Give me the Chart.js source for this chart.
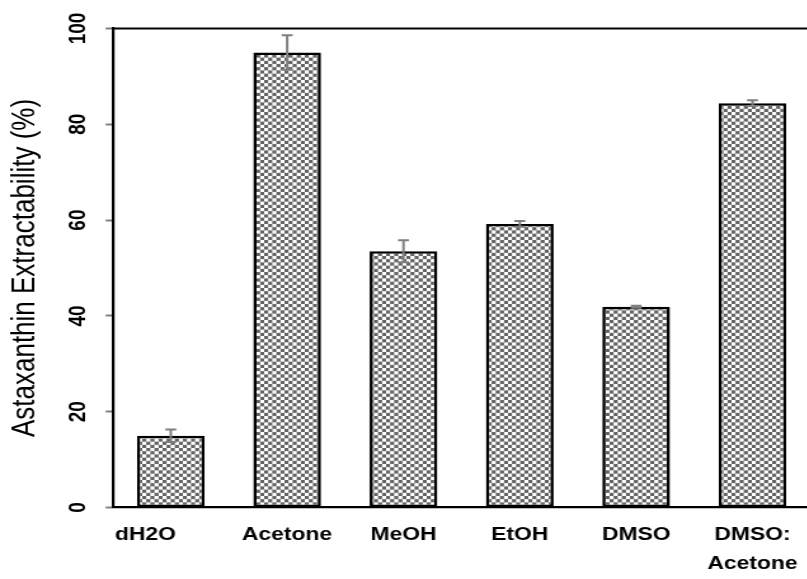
<!DOCTYPE html>
<html>
<head>
<meta charset="utf-8">
<script src="https://cdn.jsdelivr.net/npm/chart.js@4.4.1/dist/chart.umd.min.js"></script>
<style>
  html, body { margin: 0; padding: 0; background: #fff; overflow: hidden; width: 807px; height: 579px; }
  /* the figure is drawn narrow and widened horizontally, like the exported plot */
  #wrap { position: absolute; left: 0; top: 0; width: 641px; height: 579px;
          transform: scaleX(1.27); transform-origin: 0 0; }
</style>
</head>
<body>
<div id="wrap"><canvas id="c"></canvas></div>
<script>
// Solvent categories, extractability means (%) and standard deviations
const categories = ['dH2O        ', 'Acetone', 'MeOH', 'EtOH', 'DMSO', ['DMSO:', 'Acetone']];
const extractability = [15.0, 95.0, 53.5, 59.2, 41.9, 84.4];
const stdDev = [1.3, 3.6, 2.3, 0.6, 0.2, 0.6];
const yTicks = [0, 20, 40, 60, 80, 100];

// Small grey/white checkerboard fill for the bars
function checkerPattern(ctx) {
  const t = document.createElement('canvas');
  t.width = 8; t.height = 8;
  const g = t.getContext('2d');
  g.fillStyle = '#ffffff';
  g.fillRect(0, 0, 8, 8);
  g.fillStyle = '#646464';
  g.fillRect(0, 0, 4, 4);
  g.fillRect(4, 4, 4, 4);
  const p = ctx.createPattern(t, 'repeat');
  p.setTransform(new DOMMatrix().scale(0.8));
  return p;
}

// Error bars (mean ± SD) and the frame line along the top of the plot
const extras = {
  id: 'extras',
  afterDatasetsDraw(chart) {
    const { ctx, chartArea } = chart;
    const meta = chart.getDatasetMeta(0);
    const y = chart.scales.y;
    ctx.save();
    ctx.strokeStyle = '#7f7f7f';
    ctx.lineWidth = 2;
    meta.data.forEach((bar, i) => {
      const v = extractability[i], e = stdDev[i];
      const yt = y.getPixelForValue(v + e), yb = y.getPixelForValue(v - e);
      const cw = 4.3;
      ctx.beginPath();
      ctx.moveTo(bar.x, yt); ctx.lineTo(bar.x, yb);
      ctx.moveTo(bar.x - cw, yt); ctx.lineTo(bar.x + cw, yt);
      ctx.moveTo(bar.x - cw, yb); ctx.lineTo(bar.x + cw, yb);
      ctx.stroke();
    });
    ctx.strokeStyle = '#000';
    ctx.lineWidth = 2.2;
    ctx.beginPath();
    ctx.moveTo(chartArea.left, chartArea.top);
    ctx.lineTo(chartArea.right + 10, chartArea.top);
    ctx.stroke();
    ctx.restore();
  }
};

const canvas = document.getElementById('c');
new Chart(canvas, {
  type: 'bar',
  data: {
    labels: categories,
    datasets: [{
      data: extractability,
      backgroundColor: checkerPattern(canvas.getContext('2d')),
      borderColor: '#000',
      borderWidth: 2.6,
      borderSkipped: false,
      barPercentage: 0.582,
      categoryPercentage: 1.0
    }]
  },
  options: {
    responsive: true,
    maintainAspectRatio: false,
    animation: false,
    layout: { padding: { top: 28.5, right: 0, bottom: 0, left: 0 } },
    plugins: { legend: { display: false }, tooltip: { enabled: false } },
    scales: {
      x: {
        grid: { display: false, drawTicks: false },
        border: { display: true, color: '#000', width: 2.2 },
        ticks: {
          color: '#000',
          padding: 13,
          autoSkip: false,
          minRotation: 0, maxRotation: 0,
          font: { family: 'Liberation Sans, Arial, sans-serif', size: 18, weight: 'bold', lineHeight: 1.6 }
        },
        afterFit(s) { s.height = 71.5; }
      },
      y: {
        min: 0, max: 100,
        afterBuildTicks(s) { s.ticks = yTicks.map(v => ({ value: v })); },
        grid: { display: true, drawOnChartArea: false, drawTicks: true, tickLength: 5.5, tickWidth: 2, tickColor: '#808080' },
        border: { display: true, color: '#000', width: 2.2 },
        ticks: {
          color: '#000',
          minRotation: 90, maxRotation: 90,
          crossAlign: 'center',
          padding: 6,
          font: { family: 'Liberation Sans, Arial, sans-serif', size: 19, weight: 'bold' }
        },
        title: {
          display: true,
          text: 'Astaxanthin Extractability (%)',
          color: '#000',
          padding: { top: 4, bottom: 0 },
          font: { family: 'Liberation Sans, Arial, sans-serif', size: 26, weight: 'normal' }
        },
        afterFit(s) { s.width = 88.7; }
      }
    }
  },
  plugins: [extras]
});
</script>
</body>
</html>
